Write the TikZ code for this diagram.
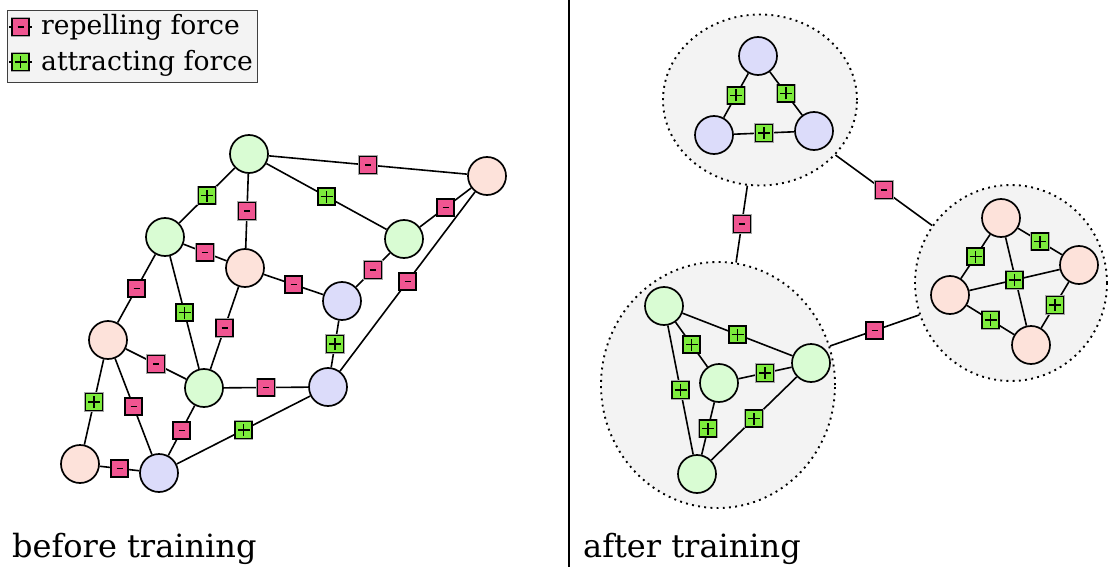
\documentclass[tikz,border=0pt]{standalone}
\usepackage{fontspec}
\setmainfont{DejaVu Serif}
\usetikzlibrary{shapes.geometric}

\definecolor{ngreen}{RGB}{217,252,211}
\definecolor{npink}{RGB}{253,226,218}
\definecolor{nblue}{RGB}{220,220,250}
\definecolor{repfill}{RGB}{240,85,145}
\definecolor{attfill}{RGB}{125,235,60}
\definecolor{panelfill}{RGB}{243,243,243}

\tikzset{
  vert/.style={circle, draw, line width=1.7pt, minimum size=38pt, inner sep=0pt},
  gv/.style={vert, fill=ngreen},
  pv/.style={vert, fill=npink},
  bv/.style={vert, fill=nblue},
  edge/.style={line width=1.6pt},
  force/.style={rectangle, draw, line width=1.4pt, minimum size=17pt, inner sep=0pt,
    preaction={draw=black!35, line width=2.6pt}},
  rep/.style={force, fill=repfill,
    path picture={\draw[line width=1.6pt]
      ([xshift=-3pt]path picture bounding box.center) --
      ([xshift=3pt]path picture bounding box.center);}},
  att/.style={force, fill=attfill,
    path picture={\draw[line width=1.2pt]
      ([xshift=-6pt]path picture bounding box.center) --
      ([xshift=6pt]path picture bounding box.center)
      ([yshift=-6pt]path picture bounding box.center) --
      ([yshift=6pt]path picture bounding box.center);}},
  cluster/.style={ellipse, draw, fill=panelfill, line width=1.9pt,
    dash pattern=on 1.9pt off 4.3pt, inner sep=0pt},
  caption/.style={anchor=base west, inner sep=0pt, font=\fontsize{32}{38}\selectfont},
  legendtext/.style={anchor=base west, inner sep=0pt, font=\fontsize{26.6}{30}\selectfont},
}

\begin{document}
\begin{tikzpicture}[x=1pt, y=-1pt]
\useasboundingbox (0,0) rectangle (1108,567);

% divider
\coordinate (divtop) at (569,0);
\coordinate (divbot) at (569,567);
\draw[line width=1.6pt] (divtop) -- (divbot);

% legend
\node[draw=black!75, fill=panelfill, line width=1pt, minimum width=250pt, minimum height=72pt,
      inner sep=0pt, anchor=north west] (legend) at (7,10) {};
\coordinate (l1a) at (9,27); \coordinate (l1b) at (32,27);
\coordinate (l2a) at (9,62); \coordinate (l2b) at (32,62);
\draw[edge] (l1a) -- node[rep]{} (l1b);
\draw[edge] (l2a) -- node[att]{} (l2b);
\node[legendtext] (lrep) at (41,35) {repelling force};
\node[legendtext] (latt) at (41,71) {attracting force};

% ---------- before training ----------
\node[gv] (A) at (249,154) {};
\node[pv] (B) at (487,176) {};
\node[gv] (C) at (165,237) {};
\node[gv] (D) at (404,239) {};
\node[pv] (E) at (245,268) {};
\node[bv] (F) at (342,301) {};
\node[pv] (G) at (108,340) {};
\node[gv] (H) at (204,388) {};
\node[bv] (I) at (328,387) {};
\node[pv] (J) at (80,464) {};
\node[bv] (K) at (159,473) {};

\draw[edge] (A) -- node[rep]{} (B);
\draw[edge] (A) -- node[att]{} (C);
\draw[edge] (A) -- node[rep]{} (E);
\draw[edge] (A) -- node[att]{} (D);
\draw[edge] (B) -- node[rep]{} (D);
\draw[edge] (B) -- node[rep]{} (I);
\draw[edge] (C) -- node[rep]{} (E);
\draw[edge] (C) -- node[rep]{} (G);
\draw[edge] (C) -- node[att]{} (H);
\draw[edge] (E) -- node[rep]{} (F);
\draw[edge] (E) -- node[rep]{} (H);
\draw[edge] (D) -- node[rep]{} (F);
\draw[edge] (F) -- node[att]{} (I);
\draw[edge] (G) -- node[rep]{} (H);
\draw[edge] (G) -- node[att]{} (J);
\draw[edge] (G) -- node[rep]{} (K);
\draw[edge] (H) -- node[rep]{} (I);
\draw[edge] (H) -- node[rep]{} (K);
\draw[edge] (I) -- node[att]{} (K);
\draw[edge] (J) -- node[rep]{} (K);

\node[caption] (cap1) at (12,557) {before training};

% ---------- after training ----------
\node[cluster, minimum width=194pt, minimum height=171pt] (c1) at (760,100) {};
\node[cluster, minimum width=192pt, minimum height=196pt] (c2) at (1011,283) {};
\node[cluster, minimum width=234pt, minimum height=246pt] (c3) at (718,385) {};

\draw[edge] (c1) -- node[rep]{} (c3);
\draw[edge] (c1) -- node[rep]{} (c2);
\draw[edge] (c3) -- node[rep]{} (c2);

% blue group
\node[bv] (b1) at (758,56) {};
\node[bv] (b2) at (714,135) {};
\node[bv] (b3) at (814,131) {};
\draw[edge] (b1) -- node[att]{} (b2);
\draw[edge] (b1) -- node[att]{} (b3);
\draw[edge] (b2) -- node[att]{} (b3);

% pink group
\node[pv] (p1) at (1001,218) {};
\node[pv] (p2) at (1079,265) {};
\node[pv] (p3) at (950,295) {};
\node[pv] (p4) at (1031,345) {};
\draw[edge] (p1) -- node[att]{} (p3);
\draw[edge] (p1) -- node[att]{} (p2);
\draw[edge] (p1) -- (p4);
\draw[edge] (p3) -- node[att]{} (p2);
\draw[edge] (p2) -- node[att]{} (p4);
\draw[edge] (p3) -- node[att]{} (p4);

% green group
\node[gv] (g1) at (664,306) {};
\node[gv] (g2) at (811,363) {};
\node[gv] (g3) at (719,383) {};
\node[gv] (g4) at (697,474) {};
\draw[edge] (g1) -- node[att]{} (g2);
\draw[edge] (g1) -- node[att]{} (g3);
\draw[edge] (g1) -- node[att]{} (g4);
\draw[edge] (g3) -- node[att]{} (g2);
\draw[edge] (g3) -- node[att]{} (g4);
\draw[edge] (g2) -- node[att]{} (g4);

\node[caption] (cap2) at (583,557) {after training};
\end{tikzpicture}
\end{document}
